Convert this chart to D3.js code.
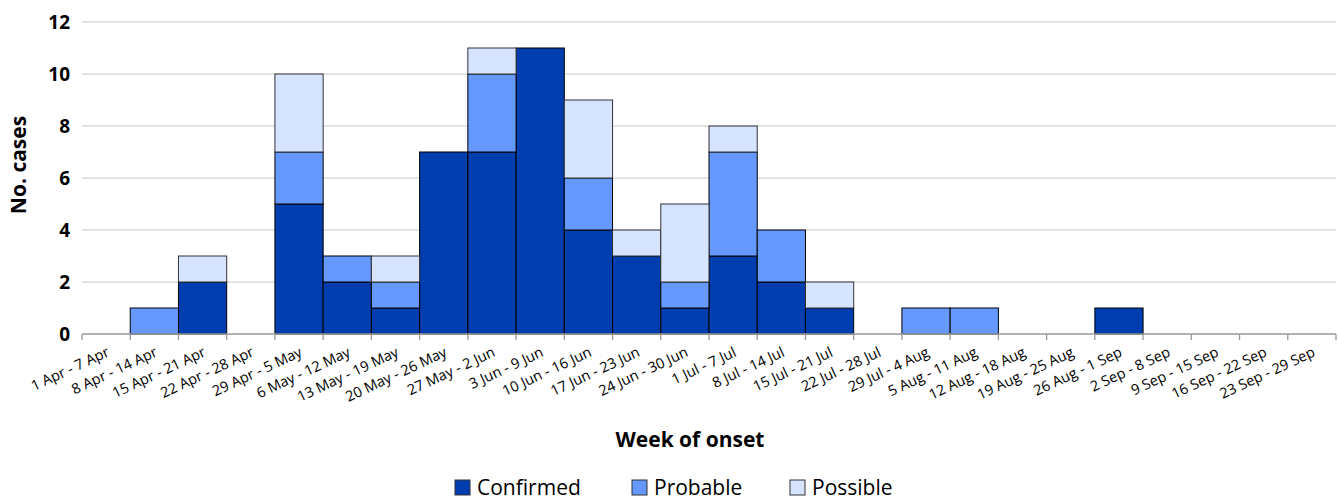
<!DOCTYPE html>
<html><head><meta charset="utf-8">
<script src="https://cdn.jsdelivr.net/npm/d3@7"></script>
<style>body{margin:0;background:#fff}svg{display:block;font-family:"Open Sans",Lato,sans-serif}</style>
</head><body><svg id="c" width="1338" height="502"></svg>
<script>
const weeks = ["1 Apr - 7 Apr","8 Apr - 14 Apr","15 Apr - 21 Apr","22 Apr - 28 Apr","29 Apr - 5 May","6 May - 12 May","13 May - 19 May","20 May - 26 May","27 May - 2 Jun","3 Jun - 9 Jun","10 Jun - 16 Jun","17 Jun - 23 Jun","24 Jun - 30 Jun","1 Jul - 7 Jul","8 Jul - 14 Jul","15 Jul - 21 Jul","22 Jul - 28 Jul","29 Jul - 4 Aug","5 Aug - 11 Aug","12 Aug - 18 Aug","19 Aug - 25 Aug","26 Aug - 1 Sep","2 Sep - 8 Sep","9 Sep - 15 Sep","16 Sep - 22 Sep","23 Sep - 29 Sep"];
const confirmed = [0,0,2,0,5,2,1,7,7,11,4,3,1,3,2,1,0,0,0,0,0,1,0,0,0,0];
const probable  = [0,1,0,0,2,1,1,0,3,0,2,0,1,4,2,0,0,1,1,0,0,0,0,0,0,0];
const possible  = [0,0,1,0,3,0,1,0,1,0,3,1,3,1,0,1,0,0,0,0,0,0,0,0,0,0];
const seriesNames = ["Confirmed","Probable","Possible"];
const colors = ["#003DAE","#6699FF","#D6E4FF"];
const yTicks = [0,2,4,6,8,10,12];

const svg = d3.select("#c");
const m = {l:82, r:1336, t:22, b:334};
const x = d3.scaleBand().domain(weeks).range([m.l, m.r]).padding(0);
const y = d3.scaleLinear().domain([0,12]).range([m.b, m.t]);

// gridlines
svg.append("g").selectAll("line").data(yTicks.filter(d=>d>0)).join("line")
  .attr("x1", m.l).attr("x2", m.r).attr("y1", d=>y(d)).attr("y2", d=>y(d))
  .attr("stroke", "#d9d9d9").attr("stroke-width", 1.3);

// y labels
svg.append("g").selectAll("text").data(yTicks).join("text")
  .attr("x", 70).attr("y", d=>y(d)).attr("dy","0.36em").attr("text-anchor","end")
  .attr("font-size", 19).attr("font-weight","bold").attr("fill","#000").text(d=>d);

// stacked bars
const rows = weeks.map((w,i)=>({week:w, Confirmed:confirmed[i], Probable:probable[i], Possible:possible[i]}));
const stack = d3.stack().keys(seriesNames)(rows);
stack.forEach((layer, si) => {
  svg.append("g").selectAll("rect").data(layer.filter(d=>d[1]-d[0]>0)).join("rect")
    .attr("x", d=>x(d.data.week)).attr("width", x.bandwidth())
    .attr("y", d=>y(d[1])).attr("height", d=>y(d[0])-y(d[1]))
    .attr("fill", colors[si]).attr("stroke", si==2 ? "#333" : "#000").attr("stroke-width", 1);
});

// x axis
const xa = svg.append("g");
xa.append("line").attr("x1", m.l).attr("x2", m.r).attr("y1", m.b).attr("y2", m.b)
  .attr("stroke", "#999").attr("stroke-width", 1.3);
const tickPos = weeks.map(w=>x(w)).concat([m.r]);
xa.selectAll("line.t").data(tickPos).join("line").attr("class","t")
  .attr("x1", d=>d).attr("x2", d=>d).attr("y1", m.b).attr("y2", m.b+6)
  .attr("stroke", "#999").attr("stroke-width", 1.3);
xa.selectAll("text").data(weeks).join("text")
  .attr("transform", w=>`translate(${x(w)+x.bandwidth()/2+2},${m.b+17}) rotate(-25)`)
  .attr("text-anchor","end").attr("dy","0.35em")
  .attr("font-size", 14.5).attr("fill","#000").text(w=>w);

// axis titles
svg.append("text").attr("x", 690).attr("y", 447).attr("text-anchor","middle")
  .attr("font-size", 21).attr("font-weight","bold").text("Week of onset");
svg.append("text").attr("transform","translate(26,165) rotate(-90)").attr("text-anchor","middle")
  .attr("font-size", 21).attr("font-weight","bold").text("No. cases");

// legend
const legX = [455, 632, 790];
const lg = svg.append("g");
seriesNames.forEach((s,i)=>{
  lg.append("rect").attr("x", legX[i]).attr("y", 480).attr("width", 15).attr("height", 15)
    .attr("fill", colors[i]).attr("stroke", "#333").attr("stroke-width", 1);
  lg.append("text").attr("x", legX[i]+22).attr("y", 487).attr("dy","0.36em")
    .attr("font-size", 21).attr("fill","#000").text(s);
});
</script></body></html>
